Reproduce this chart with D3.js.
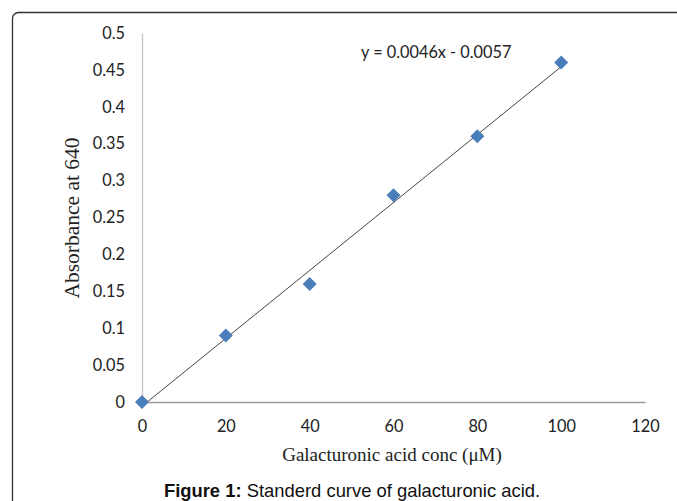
<!DOCTYPE html>
<html><head><meta charset="utf-8">
<script src="https://cdn.jsdelivr.net/npm/d3@7"></script>
<style>body{margin:0;background:#fff;} svg{display:block;}</style>
</head><body>
<svg id="c" width="677" height="501"></svg>
<script>
const xValues = [0, 20, 40, 60, 80, 100];
const yValues = [0, 0.09, 0.16, 0.28, 0.36, 0.46];
const xTicks = [0, 20, 40, 60, 80, 100, 120];
const yTicks = [0, 0.05, 0.1, 0.15, 0.2, 0.25, 0.3, 0.35, 0.4, 0.45, 0.5];
const slope = 0.0046, intercept = -0.0057;
const equationLabel = "y = 0.0046x - 0.0057";
const xTitle = "Galacturonic acid conc (\u03BCM)";
const yTitle = "Absorbance at 640";

const svg = d3.select("#c");
svg.append("rect").attr("x",12.5).attr("y",12.5).attr("width",700).attr("height",520)
  .attr("rx",6).attr("fill","none").attr("stroke","#333").attr("stroke-width",1.3);

const x = d3.scaleLinear().domain([0,120]).range([142,645]);
const y = d3.scaleLinear().domain([0,0.5]).range([402,33]);
const tickFont = "Lato, 'Open Sans', sans-serif";
const tickSize = 16.3;

// y axis
const ya = svg.append("g").attr("transform","translate(142,0)")
  .call(d3.axisLeft(y).tickValues(yTicks).tickSize(0).tickPadding(17)
    .tickFormat(d => d3.format("")(+d.toFixed(2))));
ya.select(".domain").attr("stroke","#c4c4c4").attr("stroke-width",1.3);
ya.selectAll("text").attr("font-family",tickFont).attr("font-size",tickSize).attr("fill","#222");

// x axis
const xa = svg.append("g").attr("transform","translate(0,402)")
  .call(d3.axisBottom(x).tickValues(xTicks).tickSize(0).tickPadding(18).tickFormat(d3.format("d")));
xa.select(".domain").attr("stroke","#9a9a9a").attr("stroke-width",1.3);
xa.selectAll("text").attr("font-family",tickFont).attr("font-size",tickSize).attr("fill","#222");

// trendline
const trendX = [xValues[0], xValues[xValues.length-1]];
svg.append("line")
  .attr("x1",x(trendX[0])).attr("y1",y(slope*trendX[0]+intercept))
  .attr("x2",x(trendX[1])).attr("y2",y(slope*trendX[1]+intercept))
  .attr("stroke","#444").attr("stroke-width",1);

// points
const sym = d3.symbol().type(d3.symbolDiamond2).size(125);
svg.selectAll("path.pt").data(xValues.map((v,i)=>[v,yValues[i]])).enter()
  .append("path").attr("class","pt").attr("d",sym)
  .attr("transform",d=>`translate(${x(d[0])},${y(d[1])})`)
  .attr("fill","#4A7EBB");

// equation
svg.append("text").attr("x",361).attr("y",58).attr("font-family",tickFont)
  .attr("font-size",tickSize).attr("fill","#222").text(equationLabel);

// titles
svg.append("text").attr("x",392).attr("y",461).attr("text-anchor","middle")
  .attr("font-family","'Liberation Serif', serif").attr("font-size",19).attr("fill","#222").text(xTitle);
svg.append("text").attr("transform","translate(79,218) rotate(-90)").attr("text-anchor","middle")
  .attr("font-family","'Liberation Serif', serif").attr("font-size",21.5).attr("fill","#222").text(yTitle);

// caption
const cap = svg.append("text").attr("x",352).attr("y",497).attr("text-anchor","middle")
  .attr("font-family","'Liberation Sans', Arial, sans-serif").attr("font-size",18.4).attr("fill","#111");
cap.append("tspan").attr("font-weight","bold").text("Figure 1:");
cap.append("tspan").text(" Standerd curve of galacturonic acid.");
</script>
</body></html>
